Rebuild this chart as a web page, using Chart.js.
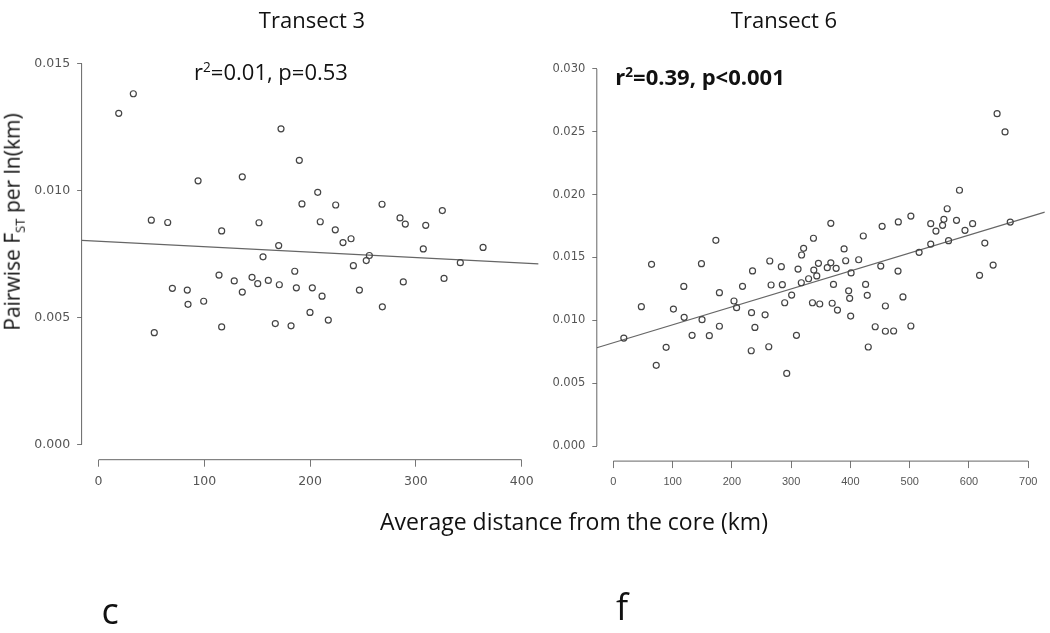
<!DOCTYPE html>
<html>
<head>
<meta charset="utf-8">
<script src="https://cdn.jsdelivr.net/npm/chart.js@4.4.1/dist/chart.umd.min.js"></script>
<style>
  body { margin: 0; background: #fff; width: 1050px; height: 633px; position: relative; overflow: hidden; font-family: 'Open Sans', sans-serif; color: #111; }
  canvas { position: absolute; left: 0; top: 0; }
  .txt { position: absolute; white-space: nowrap; transform: translate(-50%, -50%); }
  sub { font-size: 62%; vertical-align: -0.35em; }
  sup { font-size: 62%; vertical-align: 0.6em; }
</style>
</head>
<body>
<canvas id="chart3" width="1050" height="633"></canvas>
<canvas id="chart6" width="1050" height="633"></canvas>

<div class="txt" style="left:312px; top:19px; font-size:22px;">Transect 3</div>
<div class="txt" style="left:784px; top:19px; font-size:22px;">Transect 6</div>
<div class="txt" style="left:271px; top:71px; font-size:22px;">r<sup>2</sup>=0.01, p=0.53</div>
<div class="txt" style="left:700px; top:76px; font-size:22px; font-weight:bold;">r<sup>2</sup>=0.39, p&lt;0.001</div>
<div class="txt" style="left:13px; top:222px; font-size:21px; transform: translate(-50%, -50%) rotate(-90deg);">Pairwise F<sub>ST</sub> per ln(km)</div>
<div class="txt" style="left:574px; top:521px; font-size:23px;">Average distance from the core (km)</div>
<div class="txt" style="left:110px; top:610px; font-size:36px;">c</div>
<div class="txt" style="left:622px; top:606px; font-size:36px;">f</div>

<script>
// Transect 3 - distance (km) and pairwise Fst per ln(km)
const distance3 = [19.1, 32.9, 49.9, 52.7, 65.4, 69.8, 83.9, 84.6, 94.1, 99.4,
  113.9, 116.4, 116.4, 128.3, 135.9, 135.9, 145.1, 150.5, 151.7, 155.5,
  160.5, 167.1, 170.3, 170.9, 172.5, 182.0, 185.5, 187.0, 189.8, 192.3,
  199.9, 202.1, 207.2, 209.6, 211.3, 217.2, 224.2, 223.8, 231.1, 238.7,
  240.9, 246.6, 253.1, 256.0, 268.0, 268.3, 285.0, 288.1, 290.0, 307.0,
  309.3, 325.0, 326.6, 342.0, 363.5];
const fst3 = [0.01304, 0.01381, 0.00883, 0.00440, 0.00874, 0.00615, 0.00608, 0.00552, 0.01038, 0.00564,
  0.00667, 0.00841, 0.00463, 0.00644, 0.01054, 0.00600, 0.00658, 0.00633, 0.00873, 0.00739,
  0.00646, 0.00476, 0.00783, 0.00629, 0.01243, 0.00467, 0.00682, 0.00617, 0.01119, 0.00947,
  0.00520, 0.00617, 0.00993, 0.00877, 0.00584, 0.00490, 0.00943, 0.00845, 0.00795, 0.00810,
  0.00704, 0.00608, 0.00724, 0.00744, 0.00946, 0.00542, 0.00892, 0.00640, 0.00868, 0.00770,
  0.00863, 0.00921, 0.00654, 0.00716, 0.00776];
const fitX3 = [-16, 416];
const fitY3 = [0.00804, 0.00711];

// Transect 6
const distance6 = [17.6, 47.2, 64.4, 72.3, 89.0, 101.3, 118.8, 119.4, 132.8, 148.6,
  149.6, 161.9, 172.9, 178.9, 178.9, 203.5, 207.9, 217.9, 232.6, 233.1,
  234.8, 238.8, 256.0, 262.2, 263.9, 266.1, 283.4, 285.1, 289.1, 292.5,
  300.8, 308.9, 311.6, 317.1, 317.6, 321.0, 329.4, 335.9, 337.6, 338.2,
  343.2, 346.0, 348.2, 360.9, 366.9, 366.9, 369.2, 371.4, 375.9, 378.1,
  389.3, 392.0, 397.0, 398.7, 400.4, 401.1, 413.9, 421.7, 425.6, 428.4,
  430.1, 441.8, 451.2, 453.5, 459.0, 459.0, 472.9, 480.3, 480.8, 488.6,
  502.0, 502.0, 515.9, 535.5, 535.5, 544.3, 555.5, 557.7, 563.3, 565.6,
  579.0, 584.0, 593.3, 606.2, 617.9, 626.8, 640.8, 647.5, 660.9, 669.7];
const fst6 = [0.00859, 0.01109, 0.01446, 0.00642, 0.00785, 0.01090, 0.01270, 0.01024, 0.00881, 0.01451,
  0.01005, 0.00878, 0.01637, 0.01220, 0.00953, 0.01154, 0.01101, 0.01271, 0.00758, 0.01061,
  0.01393, 0.00944, 0.01044, 0.00790, 0.01472, 0.01281, 0.01427, 0.01284, 0.01140, 0.00578,
  0.01201, 0.00881, 0.01408, 0.01299, 0.01520, 0.01573, 0.01331, 0.01140, 0.01653, 0.01400,
  0.01353, 0.01454, 0.01130, 0.01419, 0.01772, 0.01458, 0.01136, 0.01286, 0.01414, 0.01082,
  0.01568, 0.01474, 0.01235, 0.01175, 0.01034, 0.01377, 0.01482, 0.01671, 0.01286, 0.01199,
  0.00788, 0.00949, 0.01432, 0.01748, 0.01114, 0.00913, 0.00915, 0.01392, 0.01783, 0.01186,
  0.01830, 0.00955, 0.01541, 0.01769, 0.01607, 0.01710, 0.01756, 0.01804, 0.01888, 0.01634,
  0.01796, 0.02035, 0.01716, 0.01769, 0.01358, 0.01615, 0.01440, 0.02644, 0.02499, 0.01782];
const fitX6 = [-28, 728];
const fitY6 = [0.00782, 0.01861];

// tick labels
const xTicks3 = [0, 100, 200, 300, 400];
const yTicks3 = [0, 0.005, 0.010, 0.015];
const xTicks6 = [0, 100, 200, 300, 400, 500, 600, 700];
const yTicks6 = [0, 0.005, 0.010, 0.015, 0.020, 0.025, 0.030];

// R style axis lines, only from first to last tick
const rAxes = {
  id: 'rAxes',
  afterDraw(chart) {
    const { ctx, chartArea, scales: { x, y } } = chart;
    ctx.save();
    ctx.strokeStyle = '#666';
    ctx.lineWidth = 1;
    ctx.beginPath();
    ctx.moveTo(x.getPixelForValue(x.ticks[0].value), chartArea.bottom);
    ctx.lineTo(x.getPixelForValue(x.ticks[x.ticks.length - 1].value), chartArea.bottom);
    ctx.moveTo(chartArea.left, y.getPixelForValue(y.ticks[0].value));
    ctx.lineTo(chartArea.left, y.getPixelForValue(y.ticks[y.ticks.length - 1].value));
    ctx.stroke();
    ctx.restore();
  }
};

function makeChart(id, xs, ys, fitX, fitY, xTicks, yTicks, box, fonts) {
  const xSpan = xTicks[xTicks.length - 1] - xTicks[0];
  const ySpan = yTicks[yTicks.length - 1] - yTicks[0];
  const points = xs.map((v, i) => ({ x: v, y: ys[i] }));
  const fit = fitX.map((v, i) => ({ x: v, y: fitY[i] }));
  return new Chart(document.getElementById(id), {
    type: 'scatter',
    data: {
      datasets: [
        {
          data: points,
          pointRadius: 3,
          pointBorderWidth: 1.2,
          pointBorderColor: '#444',
          pointBackgroundColor: 'rgba(0,0,0,0)'
        },
        {
          type: 'line',
          data: fit,
          borderColor: '#666',
          borderWidth: 1.2,
          pointRadius: 0,
          fill: false
        }
      ]
    },
    options: {
      responsive: false,
      animation: false,
      devicePixelRatio: 1,
      layout: {
        padding: { left: box.padLeft, top: box.top, right: 1050 - box.right, bottom: 633 - box.bottom - 40 }
      },
      plugins: { legend: { display: false }, tooltip: { enabled: false } },
      scales: {
        x: {
          type: 'linear',
          min: xTicks[0] - 0.04 * xSpan,
          max: xTicks[xTicks.length - 1] + 0.04 * xSpan,
          afterBuildTicks: s => { s.ticks = xTicks.map(v => ({ value: v })); },
          afterFit: s => { s.height = 40; },
          border: { display: false },
          grid: { drawOnChartArea: false, drawTicks: true, tickLength: 7, color: '#777' },
          ticks: {
            autoSkip: false, maxRotation: 0, padding: fonts.xPad, color: '#555',
            font: { family: fonts.xFamily, size: fonts.xSize },
            callback: v => String(v)
          }
        },
        y: {
          type: 'linear',
          min: yTicks[0] - 0.04 * ySpan,
          max: yTicks[yTicks.length - 1] + 0.04 * ySpan,
          afterBuildTicks: s => { s.ticks = yTicks.map(v => ({ value: v })); },
          afterFit: s => { s.width = box.left - box.padLeft; },
          border: { display: false },
          grid: { drawOnChartArea: false, drawTicks: true, tickLength: 4.5, color: '#777' },
          ticks: {
            autoSkip: false, padding: 7, color: '#555',
            font: { family: fonts.yFamily, size: fonts.ySize },
            callback: v => v.toFixed(3)
          }
        }
      }
    },
    plugins: [rAxes]
  });
}

makeChart('chart3', distance3, fst3, fitX3, fitY3, xTicks3, yTicks3,
  { padLeft: 0, left: 81.6, top: 48.3, right: 538.6, bottom: 459.7 },
  { xFamily: "'DejaVu Sans', sans-serif", xSize: 12.5, xPad: 8, yFamily: "'DejaVu Sans', sans-serif", ySize: 12.5 });

makeChart('chart6', distance6, fst6, fitX6, fitY6, xTicks6, yTicks6,
  { padLeft: 540, left: 596.8, top: 53.9, right: 1048.8, bottom: 461.1 },
  { xFamily: "'Liberation Sans Narrow', 'Liberation Sans', sans-serif", xSize: 11, xPad: 7, yFamily: "'DejaVu Sans', sans-serif", ySize: 11.5 });
</script>
</body>
</html>
